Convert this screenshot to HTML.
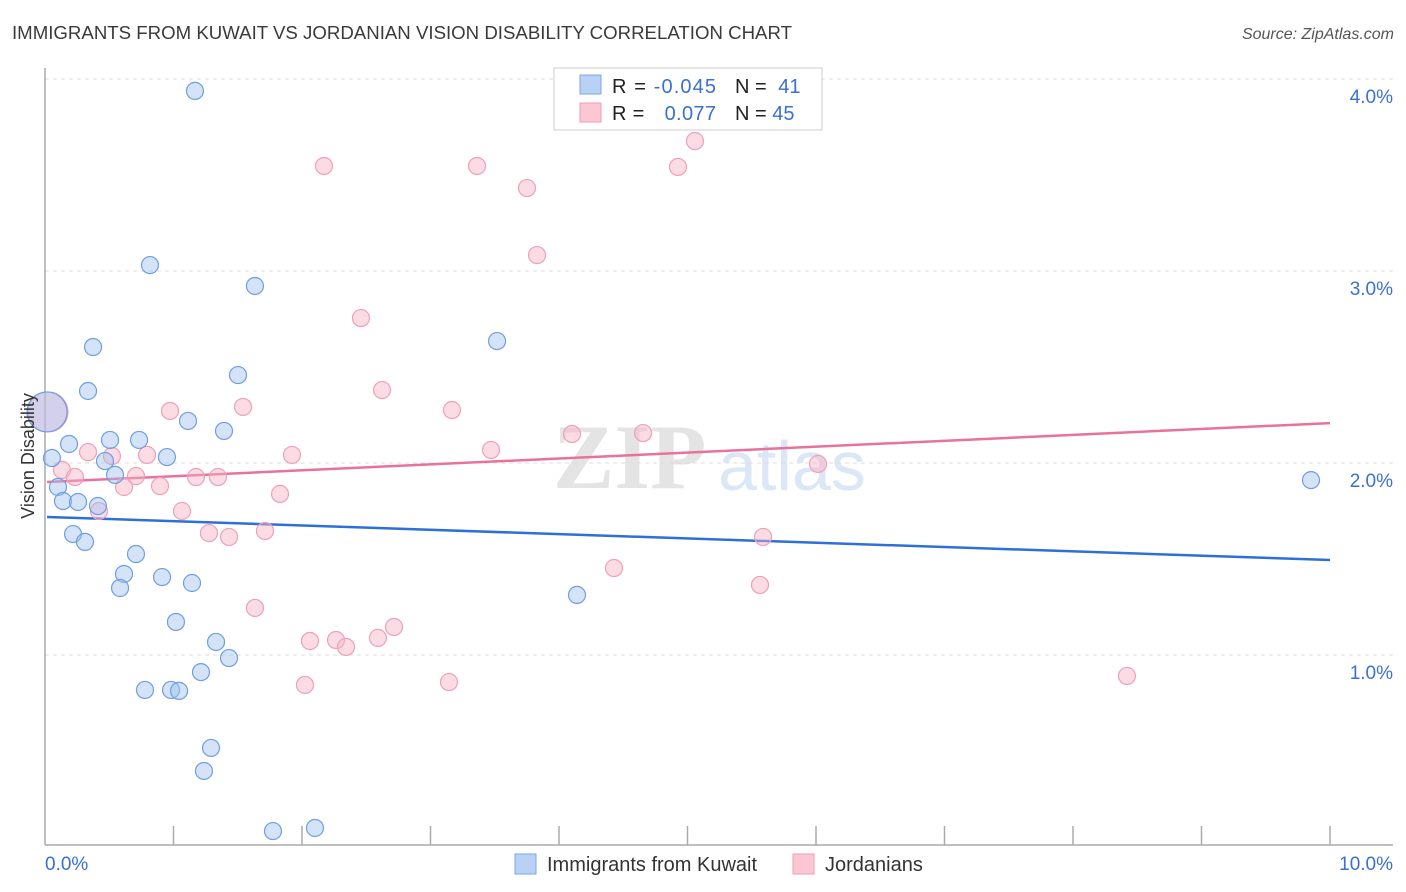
<!DOCTYPE html>
<html><head><meta charset="utf-8"><style>
body{margin:0;background:#fff;font-family:"Liberation Sans",sans-serif;}
svg{display:block}
</style></head><body>
<svg id="chart" width="1406" height="892" xmlns="http://www.w3.org/2000/svg">
<text x="12" y="39" font-size="18" fill="#3a3a3a" textLength="780" lengthAdjust="spacingAndGlyphs">IMMIGRANTS FROM KUWAIT VS JORDANIAN VISION DISABILITY CORRELATION CHART</text>
<text x="1394" y="39" font-size="16" fill="#555" font-style="italic" text-anchor="end">Source: ZipAtlas.com</text>
<g>
<text x="553" y="488" font-size="92" fill="#e4e4e4" font-family="Liberation Serif,serif" font-weight="bold">ZIP</text>
<text x="718" y="490" font-size="70" fill="#dbe6f6">atlas</text>
</g>
<g id="grid"></g>
<g id="axes"></g>
<g id="trend"></g>
<g id="pts"></g>
<text transform="translate(34,456) rotate(-90)" font-size="18" fill="#333" text-anchor="middle">Vision Disability</text>
<g>
<rect x="554" y="68" width="268" height="62" fill="#fff" stroke="#ccc"/>
<rect x="580" y="75" width="21" height="19" fill="#b9d1f5" stroke="#7aa6e6"/>
<rect x="580" y="103" width="21" height="19" fill="#fbc7d5" stroke="#ef9db5"/>
<text x="612" y="93" font-size="20" fill="#222" textLength="104">R = <tspan fill="#3a70d0">-0.045</tspan></text>
<text x="735" y="93" font-size="20" fill="#222">N = <tspan fill="#3a70d0" dx="6">41</tspan></text>
<text x="612" y="120" font-size="20" fill="#222" textLength="104">R = <tspan fill="#3a70d0" dx="14">0.077</tspan></text>
<text x="735" y="120" font-size="20" fill="#222">N = <tspan fill="#3a70d0">45</tspan></text>
</g>
<g>
<rect x="515" y="854" width="21" height="20" fill="#b9d1f5" stroke="#7aa6e6"/>
<text x="547" y="871" font-size="20" fill="#333">Immigrants from Kuwait</text>
<rect x="793" y="854" width="21" height="20" fill="#fbc7d5" stroke="#ef9db5"/>
<text x="825" y="871" font-size="20" fill="#333">Jordanians</text>
</g>
</svg>
<script>
const yTicks=[1,2,3,4];
const yTickLabels=["1.0%","2.0%","3.0%","4.0%"];
const xTickCount=10;
const xLabels=["0.0%","10.0%"];
const kuwaitX=[1.167,0.817,1.634,0.374,3.518,0.335,1.502,1.113,1.393,0.187,0.506,0.732,0.949,0.054,0.467,0.545,0.101,0.140,0.257,0.412,0.218,0.311,0.708,0.615,0.911,0.584,1.144,4.140,1.019,1.331,1.432,1.214,0.778,0.981,1.043,1.292,1.237,1.774,2.101,9.852,0.016];
const kuwaitY=[3.938,3.031,2.922,2.604,2.635,2.375,2.458,2.219,2.167,2.099,2.120,2.120,2.031,2.026,2.010,1.938,1.875,1.802,1.797,1.776,1.630,1.589,1.526,1.422,1.406,1.349,1.375,1.313,1.172,1.068,0.984,0.911,0.818,0.818,0.813,0.516,0.396,0.083,0.099,1.911,2.266];
const jordX=[5.058,2.171,3.362,4.926,3.751,3.829,2.459,2.623,3.167,1.541,0.973,4.101,4.654,3.471,1.922,0.335,0.794,0.521,6.016,0.132,0.233,0.708,1.175,1.346,0.895,0.615,1.829,1.066,0.420,1.276,1.432,1.712,5.588,4.428,5.564,1.634,2.062,2.265,2.591,2.716,2.342,2.023,3.144,8.420,0.023];
const jordY=[3.677,3.547,3.547,3.542,3.432,3.083,2.755,2.380,2.276,2.292,2.271,2.151,2.156,2.068,2.042,2.057,2.042,2.036,1.995,1.964,1.927,1.932,1.927,1.927,1.880,1.875,1.839,1.750,1.750,1.635,1.615,1.646,1.615,1.453,1.365,1.245,1.073,1.078,1.089,1.146,1.042,0.844,0.859,0.891,2.266];
const kuwaitTrend=[1.719,1.495];
const jordTrend=[1.901,2.208];
const NS="http://www.w3.org/2000/svg";
const X0=45,X1=1330,Y0=847,PPY=192;
function sx(v){return X0+v*(X1-X0)/10;}
function sy(v){return Y0-v*PPY;}
function mk(tag,attrs,parent){const e=document.createElementNS(NS,tag);for(const k in attrs)e.setAttribute(k,attrs[k]);document.getElementById(parent).appendChild(e);return e;}
yTicks.forEach((t,i)=>{
 const l=mk('line',{x1:X0,x2:1393,y1:sy(t),y2:sy(t),stroke:'#ddd','stroke-dasharray':'4,4'},'grid');
 
 
 const tx=mk('text',{x:1393,y:sy(t)+24,'font-size':19,fill:'#3a70d0','text-anchor':'end'},'grid');
 tx.textContent=yTickLabels[i];
 
 
});
const ax=mk('line',{x1:X0,x2:X0,y1:68,y2:845,stroke:'#aaa','stroke-width':1.5},'axes');


const bx=mk('line',{x1:X0,x2:1393,y1:845,y2:845,stroke:'#aaa','stroke-width':1.5},'axes');


for(let i=1;i<=xTickCount;i++){
 const t=mk('line',{x1:sx(i),x2:sx(i),y1:826,y2:845,stroke:'#aaa','stroke-width':1.5},'axes');
 
 
}
[[0,'start',X0],[10,'end',1393]].forEach((d,i)=>{
 const tx=mk('text',{x:d[2],y:870,'font-size':19,fill:'#3a70d0','text-anchor':d[1]},'axes');
 tx.textContent=xLabels[i];
 
 
});
function drawPts(xs,ys,fill,stroke,name){
 xs.forEach((x,i)=>{
  const big=(i===xs.length-1);
  const c=mk('circle',{cx:sx(x),cy:sy(ys[i]),r:big?20:8.5,fill:fill,stroke:stroke,'stroke-width':1.2},'pts');
  
  
 });
}
drawPts(jordX,jordY,'rgba(246,178,198,0.45)','#efa0b8','jordanians-point');
drawPts(kuwaitX,kuwaitY,'rgba(160,192,240,0.45)','#6e9fe2','kuwait-point');
const tl1=mk('line',{x1:sx(0.016),x2:sx(10),y1:sy(kuwaitTrend[0]),y2:sy(kuwaitTrend[1]),stroke:'#2e6fd8','stroke-width':2.5},'trend');


const tl2=mk('line',{x1:sx(0.016),x2:sx(10),y1:sy(jordTrend[0]),y2:sy(jordTrend[1]),stroke:'#e8729c','stroke-width':2.5},'trend');


</script>
</body></html>
